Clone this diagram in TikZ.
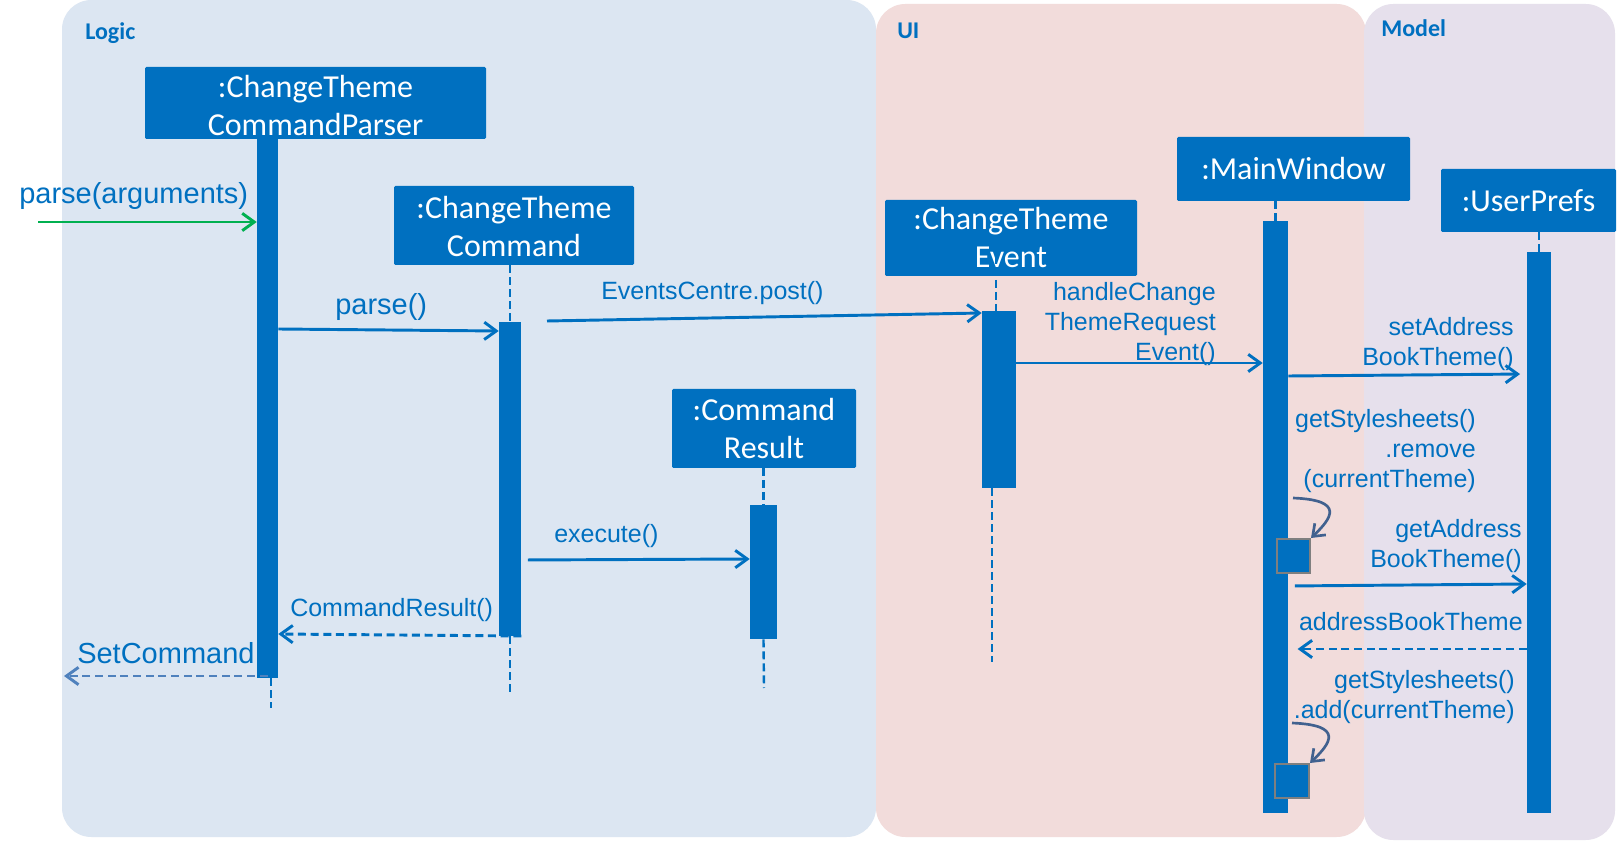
\documentclass[tikz,border=0pt]{standalone}
\usepackage{fontspec}
\setmainfont{Liberation Sans}
\newfontfamily\carlito{Carlito}
\usetikzlibrary{arrows.meta,fit}
\definecolor{mblue}{HTML}{0070C0}
\definecolor{logicbg}{HTML}{DCE6F2}
\definecolor{uibg}{HTML}{F2DCDB}
\definecolor{modelbg}{HTML}{E6E0EC}
\definecolor{mgreen}{HTML}{00B050}
\definecolor{selfc}{HTML}{41618F}
\definecolor{retc}{HTML}{4F81BD}
\definecolor{sqborder}{HTML}{7F7F7F}
\tikzset{
  panel/.style={rounded corners=22pt},
  lifebox/.style={fill=mblue, inner sep=0pt, rounded corners=1pt},
  lifetext/.style={text=white, font=\carlito\fontsize{24}{28.5}\selectfont, align=center, inner sep=0pt},
  actbar/.style={fill=mblue, inner sep=0pt},
  selfsq/.style={fill=mblue, draw=sqborder, line width=1.5pt, inner sep=0pt},
  lifeline/.style={draw=mblue, line width=1.8pt, dash pattern=on 6pt off 3pt},
  msg/.style={draw=mblue, line width=2.2pt, -{Straight Barb[length=9pt,width=13pt]}},
  retmsg/.style={msg, dash pattern=on 6pt off 3.5pt},
  selfmsg/.style={draw=selfc, line width=2pt, -{Straight Barb[length=8pt,width=12pt]}},
  lbl/.style={text=mblue, font=\fontsize{18.75}{22.5}\selectfont, inner sep=0pt, align=right},
  biglbl/.style={text=mblue, font=\fontsize{21.75}{26}\selectfont, inner sep=0pt},
  paneltitle/.style={text=mblue, font=\carlito\bfseries\fontsize{18}{20}\selectfont, inner sep=0pt},
}
\begin{document}
\begin{tikzpicture}[x=0.75pt, y=-0.75pt]
\useasboundingbox (0,0) rectangle (1618,841);
\fill[white] (0,0) rectangle (1618,841);
% panels
\fill[logicbg, panel] (62,0) rectangle (876,837);
\fill[uibg, panel] (876,4) rectangle (1366,837);
\fill[modelbg, panel] (1364,4) rectangle (1615,840);
\node[paneltitle, anchor=base west] (tlogic) at (85,40) {Logic};
\node[paneltitle, anchor=base west] (tui) at (897,39) {UI};
\node[paneltitle, anchor=base west] (tmodel) at (1381,37) {Model};
% lifeline heads
\node[lifebox, fit={(145,67)(486,139)}] (cp) {};
\node[lifetext, anchor=north] (cpt) at (315.5,75) {:ChangeTheme\\CommandParser};
\node[lifebox, fit={(394,186)(634,265)}] (cmd) {};
\node[lifetext, anchor=north] (cmdt) at (514,196) {:ChangeTheme\\Command};
\node[lifebox, fit={(672,389)(856,468)}] (cr) {};
\node[lifetext, anchor=north] (crt) at (764,398) {:Command\\Result};
\node[lifebox, fit={(885,200)(1137,276)}] (ev) {};
\node[lifetext, anchor=north] (evt) at (1011,207) {:ChangeTheme\\Event};
\node[lifebox, fit={(1177,137)(1410,201)}] (mw) {};
\node[lifetext, anchor=base] (mwt) at (1293.5,180) {:MainWindow};
\node[lifebox, fit={(1441,169)(1616,232)}] (up) {};
\node[lifetext, anchor=base] (upt) at (1528.5,212) {:UserPrefs};
% activation bars
\node[actbar, fit={(257,139)(278,678)}] (cpbar) {};
\node[actbar, fit={(499,322)(521,636)}] (cmdbar) {};
\node[actbar, fit={(750,505)(777,639)}] (crbar) {};
\node[actbar, fit={(982,311)(1016,488)}] (evbar) {};
\node[actbar, fit={(1263,221)(1288,813)}] (mwbar) {};
\node[actbar, fit={(1527,252)(1551,813)}] (upbar) {};
% lifeline ends
\coordinate (cpend) at (271,708);
\coordinate (cmdend) at (510,694);
\coordinate (crend) at (764,688);
\coordinate (evend) at (992,662);
% dashed lifelines
\draw[lifeline] (cpbar.south -| cpend) -- (cpend);
\draw[lifeline] (cmd.south -| cmdbar.north) -- (cmdbar.north);
\draw[lifeline] (cmdbar.south -| cmdend) -- (cmdend);
\draw[lifeline] (cr.south -| crbar.north) -- (crbar.north);
\draw[lifeline] (crbar.south) -- (crend);
\draw[lifeline] ([xshift=-2.25pt]evbar.north |- 0,256) -- ([xshift=-2.25pt]evbar.north);
\draw[lifeline] (evbar.south -| evend) -- (evend);
\draw[lifeline] (mw.south -| mwbar.north) -- (mwbar.north);
\draw[lifeline] (up.south -| upbar.north) -- (upbar.north);
% self-call squares
\node[selfsq, fit={(1277,539)(1310,573)}] (sq1) {};
\node[selfsq, fit={(1275,764)(1309,798)}] (sq2) {};
% free ends
\coordinate (pstart) at (38,222);
\coordinate (ecstart) at (547,321);
\coordinate (scend) at (64,676);
\coordinate (s1) at (1293,498);
\coordinate (s2) at (1292,723);
% messages
\draw[msg, draw=mgreen] (pstart) -- (cpbar.west |- pstart);
\node[biglbl, anchor=base west] (lpa) at (19,204) {parse(arguments)};
\draw[msg] (cpbar.east |- 0,329) -- (cmdbar.west |- 0,331);
\node[biglbl, anchor=base west] (lp) at (335,315) {parse()};
\draw[msg] (ecstart) -- (evbar.west |- 0,313);
\node[lbl, anchor=base west] (lec) at (601,300) {EventsCentre.post()};
\draw[msg] (evbar.east |- 0,363) -- (mwbar.west |- 0,363);
\node[lbl, anchor=north east] (lh) at (1216,282) {handleChange\\ThemeRequest\\Event()};
\draw[msg, shorten >=5pt] (mwbar.east |- 0,376) -- (upbar.west |- 0,374);
\node[lbl, anchor=north east] (lsa) at (1514,317) {setAddress\\BookTheme()};
\node[lbl, anchor=north east] (lrm) at (1476,409) {getStylesheets()\\.remove\\(currentTheme)};
\draw[selfmsg] (s1) .. controls (1345,500) and (1332,518) .. (sq1.north east);
\draw[msg, shorten <=5pt] (mwbar.east |- 0,586) -- (upbar.west |- 0,584);
\node[lbl, anchor=north east] (lga) at (1522,519) {getAddress\\BookTheme()};
\draw[retmsg, shorten >=7pt] (upbar.west |- 0,649) -- (mwbar.east |- 0,649);
\node[lbl, anchor=base east] (lab) at (1523,630) {addressBookTheme};
\node[lbl, anchor=north east] (lad) at (1515,670) {getStylesheets()\\.add(currentTheme)};
\draw[selfmsg] (s2) .. controls (1344,725) and (1331,743) .. (sq2.north east);
\draw[msg, shorten <=5pt] (cmdbar.east |- 0,560) -- (crbar.west |- 0,559);
\node[lbl, anchor=base west] (lex) at (554,542) {execute()};
\draw[retmsg] (cmdbar.east |- 0,636) -- (cpbar.east |- 0,634);
\node[lbl, anchor=base west] (lcr) at (290,616) {CommandResult()};
\draw[retmsg, draw=retc] (cpbar.center |- 0,676) -- (scend);
\node[biglbl, anchor=base west] (lsc) at (77,663) {SetCommand};
\end{tikzpicture}
\end{document}
